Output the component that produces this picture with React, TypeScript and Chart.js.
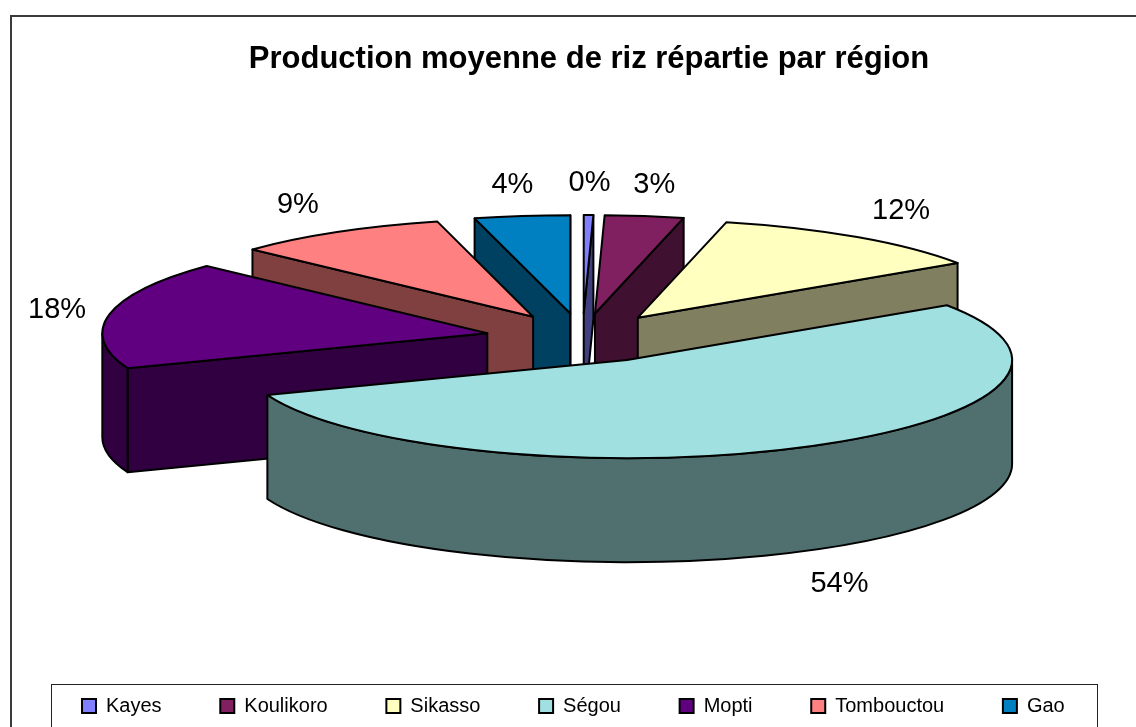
import React, { useEffect, useRef } from 'react';
import { Chart, registerables } from 'chart.js';

Chart.register(...registerables);

// ---- data ----
const TITLE = 'Production moyenne de riz répartie par région';
const REGIONS = ['Kayes', 'Koulikoro', 'Sikasso', 'Ségou', 'Mopti', 'Tombouctou', 'Gao'];
const SHARES = [0.4, 3.3, 11.9, 53.6, 17.8, 9.0, 4.0];
const TOP_COLORS = ['#8080FF', '#802060', '#FFFFC0', '#A0E0E0', '#600080', '#FF8080', '#0080C0'];

// ---- style / layout ----
const FONT = '"Liberation Sans", Arial, Helvetica, sans-serif';
const W = 1136;
const H = 727;
const PIE = {
  cx: 582.5,
  cy: 338,
  rx: 385,
  tilt: 0.255,
  depth: 104,
  explode: 0.252,
  labelR: 1.2,
  labelFont: 29,
  labelMinX: 28,
  labelNudgeY: 2.5,
};

function shade(hex: string, f: number): string {
  const n = parseInt(hex.slice(1), 16);
  const r = Math.round(((n >> 16) & 255) * f);
  const g = Math.round(((n >> 8) & 255) * f);
  const b = Math.round((n & 255) * f);
  return `rgb(${r},${g},${b})`;
}

const pie3dPlugin = {
  id: 'pie3d',
  beforeDatasetsDraw(chart: any) {
    const meta = chart.getDatasetMeta(0);
    const ctx: CanvasRenderingContext2D = chart.ctx;
    const values = chart.data.datasets[0].data as number[];
    const total = values.reduce((a, b) => a + b, 0);
    const A = PIE.rx;
    const B = PIE.rx * PIE.tilt;
    const D = PIE.depth;

    const slices = meta.data.map((el: any, i: number) => {
      const s = el.startAngle as number;
      const e = el.endAngle as number;
      const m = (s + e) / 2;
      const cx = PIE.cx + PIE.explode * A * Math.cos(m);
      const cy = PIE.cy + PIE.explode * B * Math.sin(m);
      const color = (chart.data.datasets[0].backgroundColor as string[])[i];
      return { i, s, e, m, cx, cy, color, side: shade(color, 0.5) };
    });

    ctx.save();
    ctx.lineWidth = 2;
    ctx.lineJoin = 'round';
    ctx.strokeStyle = '#000';
    const fillStroke = (fill: string) => {
      ctx.fillStyle = fill;
      ctx.fill();
      ctx.stroke();
    };

    // walls, back to front
    const order = [...slices].sort((p, q) => Math.sin(p.m) - Math.sin(q.m));
    for (const sl of order) {
      const face = (t: number) => {
        ctx.beginPath();
        ctx.moveTo(sl.cx, sl.cy);
        ctx.lineTo(sl.cx + A * Math.cos(t), sl.cy + B * Math.sin(t));
        ctx.lineTo(sl.cx + A * Math.cos(t), sl.cy + B * Math.sin(t) + D);
        ctx.lineTo(sl.cx, sl.cy + D);
        ctx.closePath();
        fillStroke(sl.side);
      };
      if (Math.cos(sl.s) < 0) face(sl.s);
      if (Math.cos(sl.e) > 0) face(sl.e);
      const w0 = Math.max(sl.s, 0);
      const w1 = Math.min(sl.e, Math.PI);
      if (w1 > w0) {
        ctx.beginPath();
        ctx.ellipse(sl.cx, sl.cy, A, B, 0, w0, w1, false);
        ctx.lineTo(sl.cx + A * Math.cos(w1), sl.cy + B * Math.sin(w1) + D);
        ctx.ellipse(sl.cx, sl.cy + D, A, B, 0, w1, w0, true);
        ctx.closePath();
        fillStroke(sl.side);
      }
    }

    // top faces
    for (const sl of slices) {
      ctx.beginPath();
      ctx.moveTo(sl.cx, sl.cy);
      ctx.ellipse(sl.cx, sl.cy, A, B, 0, sl.s, sl.e, false);
      ctx.closePath();
      fillStroke(sl.color);
    }

    // percentage labels
    ctx.fillStyle = '#000';
    ctx.font = `${PIE.labelFont}px ${FONT}`;
    ctx.textAlign = 'center';
    ctx.textBaseline = 'middle';
    for (const sl of slices) {
      const pct = Math.round((values[sl.i] / total) * 100) + '%';
      const sn = Math.sin(sl.m);
      const half = ctx.measureText(pct).width / 2;
      let x = sl.cx + PIE.labelR * A * Math.cos(sl.m);
      if (x - half < PIE.labelMinX) x = PIE.labelMinX + half;
      const y =
        sl.cy + PIE.labelR * B * sn + (PIE.labelFont / 2) * sn + (sn > 0 ? D : 0) + PIE.labelNudgeY;
      ctx.fillText(pct, x, y);
    }
    ctx.restore();
    return false;
  },
};

const framePlugin = {
  id: 'frame',
  beforeDraw(chart: any) {
    const ctx: CanvasRenderingContext2D = chart.ctx;
    ctx.save();
    ctx.fillStyle = '#fff';
    ctx.fillRect(0, 0, W, H);
    ctx.strokeStyle = '#3a3a3a';
    ctx.lineWidth = 2;
    ctx.strokeRect(11, 16, W + 40, H + 40);
    ctx.restore();
  },
  afterDraw(chart: any) {
    const ctx: CanvasRenderingContext2D = chart.ctx;
    ctx.save();
    ctx.strokeStyle = '#222';
    ctx.lineWidth = 1;
    ctx.strokeRect(51.5, 684.5, 1046, 100);
    ctx.restore();
  },
};

export default function App() {
  const ref = useRef<HTMLCanvasElement>(null);
  useEffect(() => {
    if (!ref.current) return;
    const chart = new Chart(ref.current, {
      type: 'pie',
      data: {
        labels: REGIONS,
        datasets: [
          {
            data: SHARES,
            backgroundColor: TOP_COLORS,
            borderColor: '#000',
            borderWidth: 2,
          },
        ],
      },
      options: {
        responsive: false,
        animation: false,
        layout: { padding: { left: 23.3, right: -18.7, top: 0, bottom: 1 } },
        plugins: {
          title: {
            display: true,
            text: TITLE,
            color: '#000',
            font: { family: FONT, size: 31, weight: 'bold' },
            padding: { top: 41, bottom: 10 },
          },
          legend: {
            position: 'bottom',
            align: 'start',
            labels: {
              boxWidth: 14,
              boxHeight: 14,
              color: '#000',
              font: { family: FONT, size: 20 },
              padding: 58.7,
            },
          },
          tooltip: { enabled: false },
        },
      } as any,
      plugins: [framePlugin, pie3dPlugin],
    });
    return () => chart.destroy();
  }, []);
  return (
    <div style={{ position: 'absolute', left: 0, top: 0, width: W, height: H, overflow: 'hidden' }}>
      <canvas ref={ref} width={W} height={H} style={{ display: 'block', width: W, height: H }} />
    </div>
  );
}
